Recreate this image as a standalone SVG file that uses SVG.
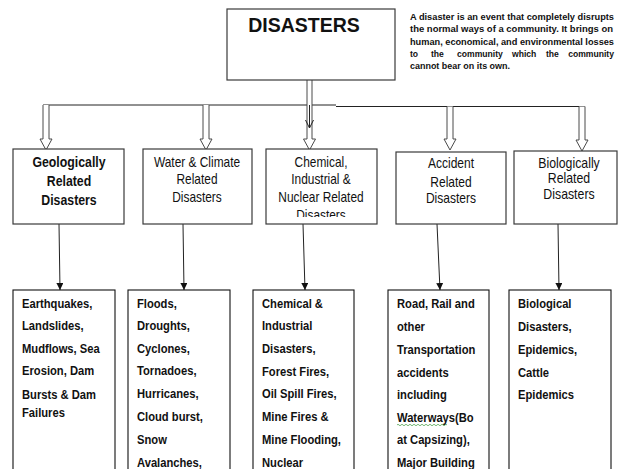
<svg xmlns="http://www.w3.org/2000/svg" width="618" height="469" viewBox="0 0 618 469">
<style>
.box{fill:#fff;stroke:#3a3a3a;stroke-width:1.2}
.item{fill:#fff;stroke:#111;stroke-width:1.1}
.hollow{fill:#fff;stroke:#4a4a4a;stroke-width:1}
.thin{fill:none;stroke:#222;stroke-width:1}
.title{font-family:"Liberation Sans",Arial,sans-serif;font-weight:bold;font-size:19.5px;fill:#111}
.cat{font-family:"Liberation Sans",Arial,sans-serif;font-size:14px;fill:#111;text-anchor:middle}
.catb{font-weight:bold}
.it{font-family:"Liberation Sans",Arial,sans-serif;font-weight:bold;font-size:13.5px;fill:#111}
.desc{font-family:"Liberation Sans",Arial,sans-serif;font-weight:bold;font-size:8.6px;fill:#111}
</style>
<defs>
<marker id="ah" markerWidth="7" markerHeight="7" refX="7" refY="3.5" orient="auto" markerUnits="userSpaceOnUse">
<path d="M0,0 L7,3.5 L0,7 z" fill="#111"/>
</marker>
<clipPath id="clipChem"><rect x="266" y="149" width="111" height="68"/></clipPath>
</defs>
<rect width="618" height="469" fill="#fff"/>

<g id="connectors">
<line class="thin" x1="43" y1="105" x2="336" y2="105"/>
<line class="thin" x1="336" y1="106.5" x2="585" y2="106.5"/>
<path class="hollow" d="M43,105 V139 H40 L46,150 L52,139 H49 V105"/>
<path class="hollow" d="M203,105 V139 H200 L206,150 L212,139 H209 V105"/>
<path class="hollow" d="M307,80 V139 H303.5 L309.5,150 L315.5,139 H312 V80"/>
<line class="thin" x1="309.5" y1="105" x2="309.5" y2="128"/>
<path class="thin" d="M305.5,120 L309.5,128 L313.5,120"/>
<path class="hollow" d="M447,106.5 V139 H444 L450,150 L456,139 H453 V106.5"/>
<path class="hollow" d="M579,106.5 V140 H576 L582,151 L588,140 H585 V106.5"/>
<line class="thin" x1="59" y1="224" x2="60" y2="290" marker-end="url(#ah)"/>
<line class="thin" x1="183" y1="224" x2="184" y2="290" marker-end="url(#ah)"/>
<line class="thin" x1="303" y1="224" x2="305" y2="290" marker-end="url(#ah)"/>
<line class="thin" x1="437" y1="224" x2="440" y2="290" marker-end="url(#ah)"/>
<line class="thin" x1="558" y1="224" x2="559" y2="290" marker-end="url(#ah)"/>
</g>

<g id="disasters">
<rect class="box" x="227" y="9" width="168" height="71"/>
<text class="title" x="304" y="32" text-anchor="middle">DISASTERS</text>
</g>

<g id="description">
<text class="desc" x="410" y="20" textLength="204" lengthAdjust="spacingAndGlyphs">A disaster is an event that completely disrupts</text>
<text class="desc" x="410" y="32" textLength="203" lengthAdjust="spacingAndGlyphs">the normal ways of a community. It brings on</text>
<text class="desc" x="410" y="44.5" textLength="204" lengthAdjust="spacingAndGlyphs">human, economical, and environmental losses</text>
<text class="desc" x="410" y="56.5">to</text>
<text class="desc" x="431" y="56.5">the</text>
<text class="desc" x="457" y="56.5">community</text>
<text class="desc" x="512" y="56.5">which</text>
<text class="desc" x="546" y="56.5">the</text>
<text class="desc" x="614" y="56.5" text-anchor="end">community</text>
<text class="desc" x="410" y="69" textLength="100" lengthAdjust="spacingAndGlyphs">cannot bear on its own.</text>
</g>

<g id="cat-geo">
<rect class="box" x="13" y="149" width="111" height="75"/>
<g transform="translate(69,0) scale(0.88,1)">
<text class="cat catb" x="0" y="167">Geologically</text>
<text class="cat catb" x="0" y="186">Related</text>
<text class="cat catb" x="0" y="205">Disasters</text>
</g>
</g>

<g id="cat-water">
<rect class="box" x="143" y="149" width="109" height="75"/>
<g transform="translate(197,0) scale(0.85,1)">
<text class="cat" x="0" y="167">Water &amp; Climate</text>
<text class="cat" x="0" y="184">Related</text>
<text class="cat" x="0" y="202">Disasters</text>
</g>
</g>

<g id="cat-chem">
<rect class="box" x="266" y="149" width="111" height="75"/>
<g clip-path="url(#clipChem)">
<g transform="translate(321,0) scale(0.85,1)">
<text class="cat" x="0" y="167">Chemical,</text>
<text class="cat" x="0" y="184">Industrial &amp;</text>
<text class="cat" x="0" y="202">Nuclear Related</text>
<text class="cat" x="0" y="220">Disasters</text>
</g>
</g>
</g>

<g id="cat-accident">
<rect class="box" x="396" y="152" width="110" height="72"/>
<g transform="translate(451,0) scale(0.86,1)">
<text class="cat" x="0" y="168">Accident</text>
<text class="cat" x="0" y="187">Related</text>
<text class="cat" x="0" y="203">Disasters</text>
</g>
</g>

<g id="cat-bio">
<rect class="box" x="514" y="151" width="103" height="73"/>
<g transform="translate(569,0) scale(0.88,1)">
<text class="cat" x="0" y="168">Biologically</text>
<text class="cat" x="0" y="183">Related</text>
<text class="cat" x="0" y="199">Disasters</text>
</g>
</g>

<g id="items-geo">
<rect class="item" x="13" y="290" width="102" height="200"/>
<g transform="translate(22,0) scale(0.83,1)">
<text class="it" x="0" y="308">Earthquakes,</text>
<text class="it" x="0" y="330">Landslides,</text>
<text class="it" x="0" y="353">Mudflows, Sea</text>
<text class="it" x="0" y="375">Erosion, Dam</text>
<text class="it" x="0" y="399">Bursts &amp; Dam</text>
<text class="it" x="0" y="417">Failures</text>
</g>
</g>

<g id="items-water">
<rect class="item" x="128" y="290" width="102" height="200"/>
<g transform="translate(137,0) scale(0.83,1)">
<text class="it" x="0" y="308">Floods,</text>
<text class="it" x="0" y="330">Droughts,</text>
<text class="it" x="0" y="353">Cyclones,</text>
<text class="it" x="0" y="375">Tornadoes,</text>
<text class="it" x="0" y="398">Hurricanes,</text>
<text class="it" x="0" y="421">Cloud burst,</text>
<text class="it" x="0" y="444">Snow</text>
<text class="it" x="0" y="467">Avalanches,</text>
</g>
</g>

<g id="items-chem">
<rect class="item" x="253" y="290" width="101" height="200"/>
<g transform="translate(262,0) scale(0.83,1)">
<text class="it" x="0" y="308">Chemical &amp;</text>
<text class="it" x="0" y="330">Industrial</text>
<text class="it" x="0" y="353">Disasters,</text>
<text class="it" x="0" y="376">Forest Fires,</text>
<text class="it" x="0" y="398">Oil Spill Fires,</text>
<text class="it" x="0" y="421">Mine Fires &amp;</text>
<text class="it" x="0" y="444">Mine Flooding,</text>
<text class="it" x="0" y="467">Nuclear</text>
</g>
</g>

<g id="items-accident">
<rect class="item" x="388" y="290" width="101" height="200"/>
<g transform="translate(397,0) scale(0.83,1)">
<text class="it" x="0" y="308">Road, Rail and</text>
<text class="it" x="0" y="331">other</text>
<text class="it" x="0" y="354">Transportation</text>
<text class="it" x="0" y="377">accidents</text>
<text class="it" x="0" y="399">including</text>
<text class="it" x="0" y="422">Waterways(Bo</text>
<text class="it" x="0" y="444">at Capsizing),</text>
<text class="it" x="0" y="467">Major Building</text>
</g>
<path d="M397,425 q1,-1.5 2,0 t2,0 t2,0 t2,0 t2,0 t2,0 t2,0 t2,0 t2,0 t2,0 t2,0 t2,0 t2,0 t2,0 t2,0 t2,0 t2,0 t2,0 t2,0 t2,0 t2,0 t2,0 t2,0 t2,0 t2,0" fill="none" stroke="#3a9a3a" stroke-width="0.7"/>
</g>

<g id="items-bio">
<rect class="item" x="509" y="290" width="102" height="200"/>
<g transform="translate(518,0) scale(0.83,1)">
<text class="it" x="0" y="308">Biological</text>
<text class="it" x="0" y="331">Disasters,</text>
<text class="it" x="0" y="354">Epidemics,</text>
<text class="it" x="0" y="377">Cattle</text>
<text class="it" x="0" y="399">Epidemics</text>
</g>
</g>
</svg>
